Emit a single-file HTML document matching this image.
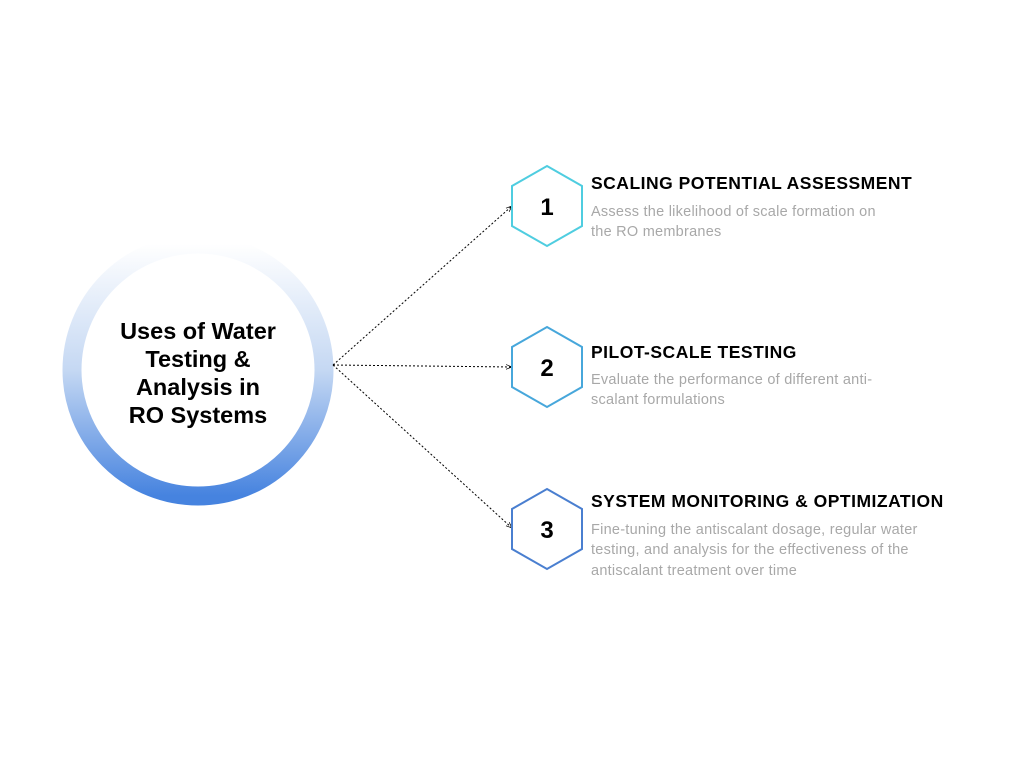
<!DOCTYPE html>
<html><head><style>
body{margin:0;background:#fff;width:1024px;height:768px;overflow:hidden;font-family:"Liberation Sans",sans-serif}
</style></head><body>
<svg width="1024" height="768" xmlns="http://www.w3.org/2000/svg">
<defs>
<linearGradient id="g" x1="0" y1="0" x2="0" y2="1">
<stop offset="0" stop-color="#ffffff"/>
<stop offset="0.5" stop-color="#c5d8f3"/>
<stop offset="1" stop-color="#4683df"/>
</linearGradient>
<marker id="a" viewBox="0 0 10 10" refX="10" refY="5" markerWidth="6" markerHeight="6" orient="auto">
<path d="M0,1 L10,5 L0,9" fill="none" stroke="#000" stroke-width="1.2"/>
</marker>
</defs>
<circle cx="198" cy="370" r="126" fill="none" stroke="url(#g)" stroke-width="19"/>
<g font-weight="bold" font-size="23.5" text-anchor="middle" fill="#000">
<text x="198" y="339">Uses of Water</text>
<text x="198" y="367">Testing &amp;</text>
<text x="198" y="395">Analysis in</text>
<text x="198" y="423">RO Systems</text>
</g>
<g stroke="#000" stroke-width="1" stroke-dasharray="2,2" fill="none">
<line x1="333" y1="365" x2="512" y2="206" marker-end="url(#a)"/>
<line x1="333" y1="365" x2="512" y2="367" marker-end="url(#a)"/>
<line x1="333" y1="365" x2="512" y2="528" marker-end="url(#a)"/>
</g>
<g fill="#fff" stroke-width="2">
<polygon points="547,166 582,186 582,226 547,246 512,226 512,186" stroke="#4fcde0"/>
<polygon points="547,327 582,347 582,387 547,407 512,387 512,347" stroke="#47a7db"/>
<polygon points="547,489 582,509 582,549 547,569 512,549 512,509" stroke="#4a7fd0"/>
</g>
<g font-weight="bold" font-size="24" text-anchor="middle">
<text x="547" y="215">1</text>
<text x="547" y="376">2</text>
<text x="547" y="538">3</text>
</g>
<g font-weight="bold" font-size="17.5" fill="#000" letter-spacing="0.5">
<text x="591" y="189">SCALING POTENTIAL ASSESSMENT</text>
<text x="591" y="358">PILOT-SCALE TESTING</text>
<text x="591" y="507">SYSTEM MONITORING &amp; OPTIMIZATION</text>
</g>
<g font-size="14.5" fill="#a8a8a8" letter-spacing="0.25">
<text x="591" y="216">Assess the likelihood of scale formation on</text>
<text x="591" y="236">the RO membranes</text>
<text x="591" y="384">Evaluate the performance of different anti-</text>
<text x="591" y="404">scalant formulations</text>
<text x="591" y="534">Fine-tuning the antiscalant dosage, regular water</text>
<text x="591" y="554">testing, and analysis for the effectiveness of the</text>
<text x="591" y="575">antiscalant treatment over time</text>
</g>
</svg>
</body></html>
